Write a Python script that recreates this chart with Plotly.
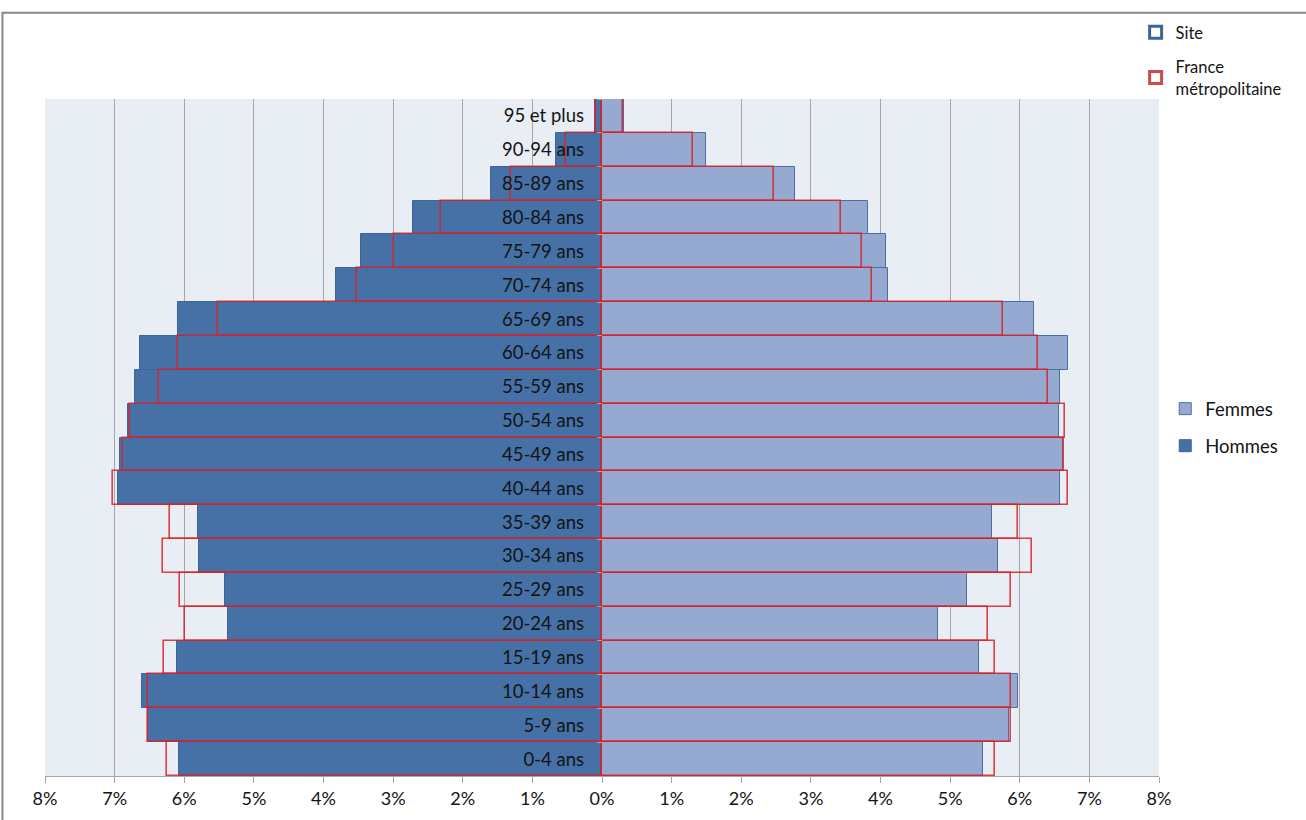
import plotly.graph_objects as go

# Age groups, youngest at the bottom of the pyramid
ages = ["0-4 ans", "5-9 ans", "10-14 ans", "15-19 ans", "20-24 ans", "25-29 ans",
        "30-34 ans", "35-39 ans", "40-44 ans", "45-49 ans", "50-54 ans", "55-59 ans",
        "60-64 ans", "65-69 ans", "70-74 ans", "75-79 ans", "80-84 ans", "85-89 ans",
        "90-94 ans", "95 et plus"]

# Share of the population (%) on the site
site_hommes = [6.07, 6.52, 6.60, 6.11, 5.37, 5.41, 5.79, 5.80, 6.95, 6.92, 6.81, 6.71,
               6.64, 6.09, 3.82, 3.46, 2.72, 1.60, 0.66, 0.10]
site_femmes = [5.47, 5.85, 5.97, 5.41, 4.82, 5.24, 5.69, 5.60, 6.58, 6.62, 6.57, 6.58,
               6.69, 6.20, 4.11, 4.08, 3.82, 2.77, 1.49, 0.32]

# Share of the population (%) in metropolitan France
france_hommes = [6.25, 6.52, 6.52, 6.29, 5.99, 6.06, 6.31, 6.21, 7.02, 6.88, 6.78, 6.36,
                 6.09, 5.51, 3.52, 2.99, 2.31, 1.30, 0.51, 0.08]
france_femmes = [5.65, 5.88, 5.87, 5.65, 5.54, 5.87, 6.17, 5.97, 6.69, 6.64, 6.65, 6.40,
                 6.26, 5.76, 3.88, 3.73, 3.43, 2.47, 1.31, 0.30]

tick_values = list(range(-8, 9))
tick_labels = [f"{abs(v)}%" for v in tick_values]

FONT = "Lato, Carlito, 'Open Sans', sans-serif"
TEXT = "#141414"
HOMMES_FILL = "#4571a6"
HOMMES_LINE = "#3d6598"
FEMMES_FILL = "#95a9d1"
FEMMES_LINE = "#4a6fa5"
FRANCE_LINE = "rgba(214, 34, 40, 0.85)"
GRID = "#a6a6a6"

fig = go.Figure()

# Site: women on the right, men on the left (negative values)
fig.add_trace(go.Bar(
    y=ages, x=site_femmes, orientation="h", name="Femmes",
    marker=dict(color=FEMMES_FILL, line=dict(color=FEMMES_LINE, width=1)),
    legend="legend2", legendgroup="f", legendrank=1,
))
fig.add_trace(go.Bar(
    y=ages, x=[-v for v in site_hommes], orientation="h", name="Hommes",
    marker=dict(color=HOMMES_FILL, line=dict(color=HOMMES_LINE, width=1)),
    legend="legend2", legendgroup="h", legendrank=2,
))

# Metropolitan France drawn as red outlines on top
fig.add_trace(go.Bar(
    y=ages, x=france_femmes, orientation="h", name="France métropolitaine (femmes)",
    marker=dict(color="rgba(0,0,0,0)", line=dict(color=FRANCE_LINE, width=1.6)),
    showlegend=False,
))
fig.add_trace(go.Bar(
    y=ages, x=[-v for v in france_hommes], orientation="h",
    name="France métropolitaine (hommes)",
    marker=dict(color="rgba(0,0,0,0)", line=dict(color=FRANCE_LINE, width=1.6)),
    showlegend=False,
))

# Legend-only entries for the outline key
fig.add_trace(go.Bar(
    y=[None], x=[None], orientation="h", name="Site",
    marker=dict(color="white", line=dict(color="#3c659b", width=3)),
    legend="legend", legendgroup="site", legendrank=1,
))
fig.add_trace(go.Bar(
    y=[None], x=[None], orientation="h", name="France<br>métropolitaine",
    marker=dict(color="white", line=dict(color="#cf4a4a", width=3)),
    legend="legend", legendgroup="fr", legendrank=2,
))

fig.update_layout(
    width=1306, height=820,
    margin=dict(l=45, r=147, t=99, b=44),
    paper_bgcolor="white",
    plot_bgcolor="#e9edf4",
    barmode="overlay", bargap=0,
    font=dict(family=FONT, size=18, color=TEXT),
    xaxis=dict(
        range=[-8, 8], tickvals=tick_values, ticktext=tick_labels,
        showgrid=True, gridcolor=GRID, gridwidth=1, zeroline=False,
        showline=True, linecolor=GRID, linewidth=1,
        ticks="outside", ticklen=6, tickcolor=GRID,
        tickfont=dict(family=FONT, size=18, color=TEXT),
        fixedrange=True,
    ),
    yaxis=dict(
        type="category", categoryorder="array", categoryarray=ages,
        anchor="free", position=0.5, side="left",
        showgrid=False, zeroline=False, showline=False,
        ticks="outside", ticklen=5, tickcolor=GRID, tickson="boundaries",
        ticklabelstandoff=18,
        tickfont=dict(family=FONT, size=18.5, color=TEXT),
        fixedrange=True,
    ),
    legend=dict(
        x=0.979, y=1.124, xanchor="left", yanchor="top",
        bgcolor="rgba(0,0,0,0)", font=dict(family=FONT, size=16.5, color=TEXT),
        tracegroupgap=10, itemwidth=30,
    ),
    legend2=dict(
        x=1.0056, y=0.570, xanchor="left", yanchor="top",
        bgcolor="rgba(0,0,0,0)", font=dict(family=FONT, size=18.5, color=TEXT),
        tracegroupgap=10, itemwidth=30,
    ),
    shapes=[dict(
        type="rect", xref="paper", yref="paper",
        x0=-0.0382, x1=1.25, y0=-0.2, y1=1.1274,
        line=dict(color="#878787", width=2), fillcolor="rgba(0,0,0,0)",
        layer="below",
    )],
)

fig.write_html("out.html")
